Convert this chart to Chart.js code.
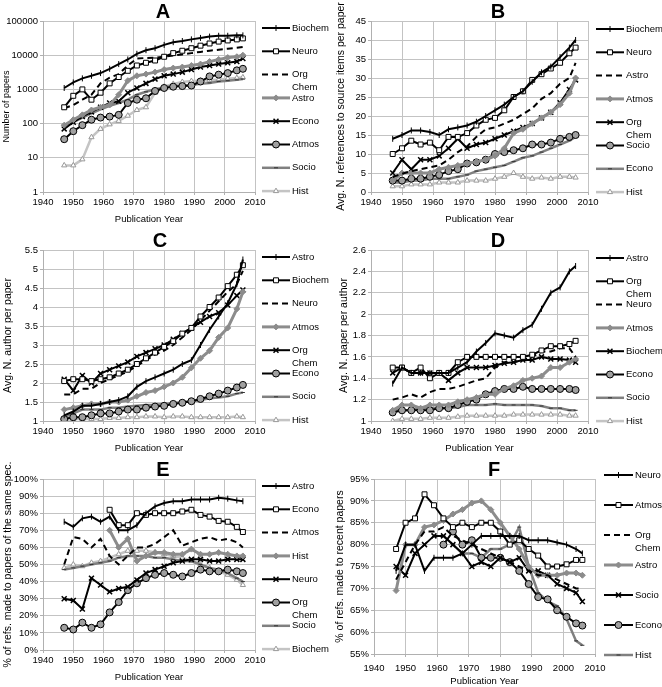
<!DOCTYPE html>
<html lang="en">
<head>
<meta charset="UTF-8">
<title>Publication trends by speciality</title>
<script src="https://cdn.jsdelivr.net/npm/chart.js"></script>
<style>
  body { margin: 0; background: #fff; }
  canvas { position: absolute; }
</style>
</head>
<body>
<canvas id="chartA" width="331" height="229" style="left:0;top:0"></canvas>
<canvas id="chartB" width="331" height="229" style="left:331px;top:0"></canvas>
<canvas id="chartC" width="331" height="229" style="left:0;top:229px"></canvas>
<canvas id="chartD" width="331" height="229" style="left:331px;top:229px"></canvas>
<canvas id="chartE" width="331" height="229" style="left:0;top:458px"></canvas>
<canvas id="chartF" width="331" height="229" style="left:331px;top:458px"></canvas>

<script>
// years sampled every 3 years (plus the last one)
const years = [1947, 1950, 1953, 1956, 1959, 1962, 1965, 1968, 1971, 1974, 1977, 1980, 1983, 1986, 1989, 1992, 1995, 1998, 2001, 2004, 2006];

// A - number of papers (log scale)
const aBiochem = [1100, 1600, 2100, 2500, 3000, 4000, 5500, 7500, 11000, 14000, 16000, 20000, 24000, 26000, 29000, 32000, 35000, 37000, 37000, 38000, 38000];
const aNeuro   = [300, 650, 1000, 500, 800, 1500, 2300, 3500, 5000, 6000, 7000, 9000, 11500, 13500, 16000, 19000, 22000, 25000, 27000, 29000, 31000];
const aOrgChem = [280, 350, 500, 700, 1500, 2200, 2800, 5000, 8000, 8300, 8500, 9000, 9800, 10500, 11500, 12500, 13500, 14500, 15500, 16500, 17500];
const aAstro   = [90, 130, 180, 250, 300, 350, 700, 1800, 2500, 2800, 3200, 3800, 4200, 4500, 5000, 5500, 6500, 7500, 8500, 9000, 10000];
const aEcono   = [70, 110, 160, 220, 300, 400, 450, 800, 1100, 1500, 2000, 2500, 2800, 3200, 3800, 4500, 5000, 5500, 6000, 6500, 8000];
const aAtmos   = [35, 60, 90, 130, 150, 160, 180, 400, 500, 550, 900, 1100, 1200, 1250, 1300, 1700, 2400, 2700, 3000, 3600, 4000];
const aSocio   = [80, 110, 150, 200, 260, 330, 400, 500, 700, 850, 1000, 1150, 1250, 1300, 1350, 1450, 1550, 1700, 1800, 1900, 2000];
const aHist    = [6, 6, 9, 40, 70, 95, 120, 170, 250, 300, 800, 1200, 1450, 1650, 1750, 1800, 1850, 1950, 2050, 2150, 2250];

// B - avg. references to source items per paper
const bBiochem = [14, 15, 16.2, 16.2, 15.8, 15, 16.5, 17, 17.5, 18.5, 20, 21.5, 23, 25, 26.5, 29, 31.5, 33, 35.5, 38, 40];
const bNeuro   = [10, 11.5, 13.5, 12.5, 13, 11, 14.5, 14.5, 15.5, 17.5, 19, 19.5, 21.5, 25, 26.5, 29.5, 31, 32.5, 34, 36.5, 38];
const bAstro   = [4, 4.8, 5.5, 6, 6.5, 7, 8.5, 10.5, 12, 14.5, 16.5, 17, 18, 19, 20.5, 22, 24.5, 26, 28.5, 30, 34];
const bAtmos   = [3, 5, 5, 5, 5, 6, 6.5, 7, 7.5, 8, 8.5, 9.5, 11.5, 15.5, 16.5, 18, 19.5, 21, 23, 26, 30];
const bOrgChem = [5, 8.5, 6, 8.5, 8.5, 9.5, 11.5, 14, 11.5, 12.5, 13, 14, 15, 16, 17, 18, 19.5, 21, 23.5, 27, 29.5];
const bSocio   = [3, 3, 3.5, 3.5, 4, 4.5, 5.5, 6, 7.5, 7.8, 8.5, 10, 10.5, 11, 11.5, 12.5, 12.5, 13, 14, 14.5, 15];
const bEcono   = [2.5, 2.5, 3, 3, 3.5, 3.5, 3.5, 4, 4.5, 5.5, 6, 6.5, 7, 8, 9, 9.5, 10.5, 11.5, 12.5, 13.5, 14.5];
const bHist    = [1.5, 1.5, 2, 2, 2, 2.5, 2.5, 2.5, 3, 3, 3, 3.5, 4, 5, 4, 3.5, 3.8, 3.5, 4, 4, 3.8];

// C - avg. authors per paper
const cAstro   = [1.15, 1.25, 1.4, 1.4, 1.45, 1.5, 1.55, 1.65, 1.9, 2.05, 2.15, 2.25, 2.35, 2.5, 2.6, 3.0, 3.4, 3.75, 4.1, 4.6, 5.25];
const cBiochem = [2.05, 2.1, 2.1, 2.05, 2.1, 2.15, 2.25, 2.35, 2.5, 2.65, 2.8, 2.95, 3.1, 3.3, 3.45, 3.75, 4.0, 4.25, 4.55, 4.85, 5.1];
const cNeuro   = [1.7, 1.7, 1.85, 1.85, 2.0, 2.1, 2.2, 2.3, 2.45, 2.6, 2.75, 2.85, 3.0, 3.2, 3.4, 3.65, 3.9, 4.15, 4.4, 4.6, 4.95];
const cAtmos   = [1.3, 1.35, 1.4, 1.45, 1.45, 1.5, 1.5, 1.55, 1.65, 1.75, 1.8, 1.9, 2.0, 2.15, 2.4, 2.65, 2.85, 3.2, 3.45, 3.95, 4.4];
const cOrgChem = [2.1, 1.8, 2.2, 2.0, 2.25, 2.35, 2.45, 2.55, 2.7, 2.8, 2.9, 3.0, 3.15, 3.3, 3.45, 3.6, 3.75, 3.85, 4.05, 4.3, 4.45];
const cEcono   = [1.05, 1.1, 1.1, 1.15, 1.2, 1.2, 1.25, 1.3, 1.3, 1.35, 1.38, 1.4, 1.45, 1.48, 1.52, 1.58, 1.65, 1.72, 1.8, 1.88, 1.95];
const cSocio   = [1.1, 1.2, 1.3, 1.3, 1.3, 1.35, 1.35, 1.38, 1.4, 1.42, 1.43, 1.45, 1.47, 1.5, 1.52, 1.55, 1.6, 1.62, 1.65, 1.72, 1.75];
const cHist    = [1.02, 1.05, 1.05, 1.05, 1.05, 1.08, 1.08, 1.1, 1.1, 1.12, 1.12, 1.1, 1.12, 1.12, 1.1, 1.1, 1.1, 1.1, 1.1, 1.12, 1.1];

// D - avg. papers per author
const dAstro   = [1.35, 1.5, 1.45, 1.45, 1.45, 1.45, 1.45, 1.5, 1.55, 1.65, 1.73, 1.82, 1.8, 1.78, 1.85, 1.9, 2.05, 2.2, 2.25, 2.4, 2.45];
const dOrgChem = [1.5, 1.5, 1.45, 1.5, 1.4, 1.45, 1.45, 1.55, 1.6, 1.6, 1.6, 1.6, 1.6, 1.6, 1.6, 1.62, 1.66, 1.7, 1.7, 1.72, 1.75];
const dNeuro   = [1.2, 1.22, 1.25, 1.22, 1.27, 1.3, 1.3, 1.32, 1.35, 1.38, 1.4, 1.5, 1.55, 1.55, 1.57, 1.6, 1.65, 1.65, 1.68, 1.68, 1.6];
const dAtmos   = [1.1, 1.15, 1.15, 1.12, 1.15, 1.15, 1.15, 1.18, 1.2, 1.22, 1.25, 1.25, 1.3, 1.33, 1.38, 1.4, 1.42, 1.5, 1.5, 1.55, 1.58];
const dBiochem = [1.45, 1.5, 1.45, 1.45, 1.45, 1.45, 1.38, 1.45, 1.5, 1.5, 1.5, 1.52, 1.54, 1.55, 1.57, 1.57, 1.6, 1.58, 1.58, 1.57, 1.55];
const dEcono   = [1.08, 1.1, 1.1, 1.1, 1.1, 1.12, 1.12, 1.15, 1.18, 1.2, 1.25, 1.28, 1.3, 1.3, 1.32, 1.3, 1.3, 1.3, 1.3, 1.3, 1.29];
const dSocio   = [1.1, 1.1, 1.1, 1.12, 1.12, 1.12, 1.12, 1.13, 1.15, 1.15, 1.15, 1.16, 1.15, 1.15, 1.15, 1.15, 1.14, 1.12, 1.12, 1.1, 1.1];
const dHist    = [1.0, 1.02, 1.02, 1.02, 1.03, 1.03, 1.03, 1.04, 1.05, 1.05, 1.05, 1.05, 1.05, 1.06, 1.06, 1.06, 1.06, 1.06, 1.06, 1.05, 1.05];

// E - % of refs made to papers of the same speciality
const eAstro   = [75, 72, 77, 78, 75, 78, 70, 70, 73, 80, 84, 86, 87, 87, 88, 88, 88, 89, 88.5, 87.5, 87];
const eEcono   = [null, null, null, null, null, 82, 73, 73, 80, 79, 80, 80, 80, 81, 82, 79, 78, 75.5, 75, 72, 69];
const eAtmos   = [50, 66, 65, 60, 65, 55, 50, 55, 60, 60, 62, 66, 70, 61, 63, 65, 66, 64, 65, 63, 60];
const eHist    = [null, null, null, null, null, 70, 60, 65, 52, 55, 57, 57, 56, 56, 59, 56, 56, 57, 56, 55, 55];
const eNeuro   = [30, 29, 24, 42, 38, 34, 36, 37, 41, 45, 47, 49, 51, 52, 53, 53, 52, 52, 53, 53, 53];
const eOrgChem = [13, 12, 16, 13, 15, 22, 28, 35, 39, 42, 44, 45, 44, 43, 45, 47, 46, 46, 47, 46, 45];
const eSocio   = [47, 48, 49, 50, 51, 52, 54, 55, 55, 55, 54, 54, 53, 52, 52, 50, 48, 47, 45, 42, 40];
const eBiochem = [48, 50, 49, 51, 52, 54, 56, 58, 58, 58, 57, 56, 55, 54, 52, 50, 48, 46, 44, 41, 38];

// F - % of refs made to recent papers
const fNeuro   = [74, 80, 80, 74, 77, 77, 77, 78, 80, 82, 82, 82, 82, 82, 81, 81, 81, 80.5, 80, 79, 78];
const fAtmos   = [79, 85, 86, 91.5, 89, 86, 84, 85, 84, 85, 85, 83, 80, 81, 79, 77.5, 75, 75, 75.5, 76.5, 76.5];
const fOrgChem = [72, 76, 80, 83, 83, 84, 82, 81, 80, 79, 78, 77, 76, 75, 74, 73, 73, 72, 71, 70, 70];
const fAstro   = [69.5, 80, 80, 84, 84.5, 85.5, 87, 88, 89.5, 90, 88, 85, 82, 79, 75, 73, 73, 73, 73.5, 73.5, 73];
const fSocio   = [75, 73, 78, 80, 82, 82, 80, 78, 75, 76, 75, 77, 76, 77, 74, 74, 73, 71, 70, 69, 67];
const fEcono   = [null, null, null, null, null, 80, 83, 80, 81, 77, 77, 77, 76, 74, 71, 68, 67.5, 65, 63.5, 62, 61.5];
const fHist    = [null, null, null, null, null, 82, 80, 78, 78, 77, 79, 79, 80, 84, 75, 69, 67, 66, 63, 58, 57];

const FONT = "'Liberation Sans', Arial, sans-serif";

// line/marker look by legend position (same order in every panel)
const styles = [
  { borderColor: '#000', borderWidth: 2, pointStyle: 'line', pointRotation: 90, pointRadius: 3, pointBorderColor: '#000', pointBackgroundColor: '#000', pointBorderWidth: 1 },
  { borderColor: '#000', borderWidth: 2, pointStyle: 'rect', pointRotation: 0, pointRadius: 3.5, pointBackgroundColor: '#fff', pointBorderColor: '#000', pointBorderWidth: 1 },
  { borderColor: '#000', borderWidth: 2, borderDash: [6, 4], pointRadius: 0 },
  { borderColor: '#8c8c8c', borderWidth: 3, pointStyle: 'rectRot', pointRotation: 0, pointRadius: 3, pointBackgroundColor: '#8c8c8c', pointBorderColor: '#8c8c8c', pointBorderWidth: 1 },
  { borderColor: '#000', borderWidth: 2, pointStyle: 'crossRot', pointRotation: 0, pointRadius: 3.5, pointBorderColor: '#000', pointBackgroundColor: '#000', pointBorderWidth: 1.5 },
  { borderColor: '#000', borderWidth: 2, pointStyle: 'circle', pointRotation: 0, pointRadius: 3.5, pointBackgroundColor: '#a0a0a0', pointBorderColor: '#000', pointBorderWidth: 1 },
  { borderColor: '#808080', borderWidth: 2.5, pointStyle: 'line', pointRotation: 0, pointRadius: 2, pointBorderColor: '#333', pointBackgroundColor: '#333', pointBorderWidth: 1 },
  { borderColor: '#c4c4c4', borderWidth: 2.5, pointStyle: 'triangle', pointRotation: 0, pointRadius: 3, pointBackgroundColor: '#fff', pointBorderColor: '#999', pointBorderWidth: 1 }
];

// draws the panel letter and the legend on the right
const sideLegend = {
  id: 'sideLegend',
  afterDraw(chart, args, opts) {
    const ctx = chart.ctx;
    ctx.save();
    ctx.fillStyle = '#000';
    ctx.font = 'bold 20px ' + FONT;
    ctx.textAlign = 'center';
    ctx.textBaseline = 'middle';
    ctx.fillText(opts.letter, opts.letterX, 12);

    chart.data.datasets.forEach((ds, i) => {
      const y = opts.y0 + i * opts.dy;
      ctx.beginPath();
      ctx.setLineDash(ds.borderDash || []);
      ctx.lineWidth = ds.borderWidth;
      ctx.strokeStyle = ds.borderColor;
      ctx.moveTo(opts.x1, y);
      ctx.lineTo(opts.x2, y);
      ctx.stroke();
      ctx.setLineDash([]);
      if (ds.pointRadius > 0 && Chart.helpers && Chart.helpers.drawPoint) {
        ctx.fillStyle = ds.pointBackgroundColor;
        ctx.strokeStyle = ds.pointBorderColor;
        ctx.lineWidth = ds.pointBorderWidth;
        Chart.helpers.drawPoint(ctx, {
          pointStyle: ds.pointStyle, rotation: ds.pointRotation || 0,
          radius: ds.pointRadius, borderWidth: ds.pointBorderWidth
        }, (opts.x1 + opts.x2) / 2, y);
      }
      ctx.fillStyle = '#000';
      ctx.font = '9.5px ' + FONT;
      ctx.textAlign = 'left';
      ds.label.split(' ').forEach((w, k) => ctx.fillText(w, opts.x2 + 2, y + k * 13));
    });
    ctx.restore();
  }
};

function makeChart(id, p) {
  const datasets = p.series.map(([label, values], i) => Object.assign({
    label: label,
    data: values.map((v, k) => ({ x: years[k], y: v })),
    tension: 0,
    spanGaps: false,
    fill: false
  }, styles[i]));

  const yScale = {
    type: p.log ? 'logarithmic' : 'linear',
    min: p.yMin, max: p.yMax,
    afterFit: s => { s.width = p.g.left; },
    ticks: {
      stepSize: p.yStep, color: '#000', padding: 2,
      font: { size: 9.5, family: FONT },
      callback: p.yFmt
    },
    grid: { color: '#c3c3c3', tickLength: 3, tickColor: '#b0b0b0' },
    border: { color: '#b0b0b0' },
    title: {
      display: true, text: p.yTitle, color: '#000',
      font: { size: p.g.ytSize, family: FONT },
      padding: { top: p.g.ytPad, bottom: 0 }
    }
  };
  if (p.log) {
    yScale.afterBuildTicks = s => { s.ticks = p.yTicks.map(v => ({ value: v })); };
  }

  return new Chart(document.getElementById(id), {
    type: 'line',
    data: { datasets: datasets },
    options: {
      responsive: false,
      animation: false,
      events: [],
      layout: { padding: { top: p.g.top, right: p.g.right, left: 0, bottom: 0 } },
      scales: {
        x: {
          type: 'linear', min: 1940, max: 2010,
          afterFit: s => { s.height = p.g.xh; },
          ticks: {
            stepSize: 10, color: '#000', padding: p.g.xpad, maxRotation: 0, autoSkip: false,
            font: { size: 9.5, family: FONT },
            callback: v => String(v)
          },
          grid: { color: '#c3c3c3', tickLength: 3, tickColor: '#b0b0b0' },
          border: { color: '#b0b0b0' },
          title: {
            display: true, text: 'Publication Year', color: '#000',
            font: { size: 9.5, family: FONT },
            padding: { top: 0, bottom: p.g.xtb }
          }
        },
        y: yScale
      },
      plugins: {
        legend: { display: false },
        tooltip: { enabled: false },
        sideLegend: p.legend
      }
    },
    plugins: [sideLegend]
  });
}

const pct = v => v + '%';
const plain = v => String(v);

makeChart('chartA', {
  log: true, yMin: 1, yMax: 100000, yTicks: [1, 10, 100, 1000, 10000, 100000], yFmt: plain,
  yTitle: 'Number of papers',
  g: { top: 21, right: 76, left: 43, xh: 37, xpad: 2, xtb: 4, ytSize: 9, ytPad: 1.5 },
  legend: { letter: 'A', letterX: 163, x1: 262, x2: 290, y0: 28, dy: 23.3 },
  series: [['Biochem', aBiochem], ['Neuro', aNeuro], ['Org Chem', aOrgChem], ['Astro', aAstro],
           ['Econo', aEcono], ['Atmos', aAtmos], ['Socio', aSocio], ['Hist', aHist]]
});

makeChart('chartB', {
  yMin: 0, yMax: 45, yStep: 5, yFmt: plain,
  yTitle: 'Avg. N. references to source items per paper',
  g: { top: 21, right: 74, left: 40, xh: 37, xpad: 2, xtb: 4, ytSize: 10.5, ytPad: 4 },
  legend: { letter: 'B', letterX: 167, x1: 265, x2: 293, y0: 29, dy: 23.3 },
  series: [['Biochem', bBiochem], ['Neuro', bNeuro], ['Astro', bAstro], ['Atmos', bAtmos],
           ['Org Chem', bOrgChem], ['Socio', bSocio], ['Econo', bEcono], ['Hist', bHist]]
});

makeChart('chartC', {
  yMin: 1, yMax: 5.5, yStep: 0.5, yFmt: plain,
  yTitle: 'Avg. N. author per paper',
  g: { top: 21, right: 76, left: 43, xh: 37, xpad: 2, xtb: 4, ytSize: 10.5, ytPad: 1.5 },
  legend: { letter: 'C', letterX: 160, x1: 262, x2: 290, y0: 28, dy: 23.3 },
  series: [['Astro', cAstro], ['Biochem', cBiochem], ['Neuro', cNeuro], ['Atmos', cAtmos],
           ['Org Chem', cOrgChem], ['Econo', cEcono], ['Socio', cSocio], ['Hist', cHist]]
});

makeChart('chartD', {
  yMin: 1, yMax: 2.6, yStep: 0.2, yFmt: v => String(Math.round(v * 10) / 10),
  yTitle: 'Avg. N. paper per author',
  g: { top: 21, right: 74, left: 40, xh: 37, xpad: 2, xtb: 4, ytSize: 10.5, ytPad: 7 },
  legend: { letter: 'D', letterX: 167, x1: 265, x2: 293, y0: 29, dy: 23.3 },
  series: [['Astro', dAstro], ['Org Chem', dOrgChem], ['Neuro', dNeuro], ['Atmos', dAtmos],
           ['Biochem', dBiochem], ['Econo', dEcono], ['Socio', dSocio], ['Hist', dHist]]
});

makeChart('chartE', {
  yMin: 0, yMax: 100, yStep: 10, yFmt: pct,
  yTitle: '% of refs. made to papers of the same spec.',
  g: { top: 21, right: 76, left: 43, xh: 37, xpad: 2, xtb: 4, ytSize: 10.5, ytPad: 1.5 },
  legend: { letter: 'E', letterX: 163, x1: 262, x2: 290, y0: 28, dy: 23.3 },
  series: [['Astro', eAstro], ['Econo', eEcono], ['Atmos', eAtmos], ['Hist', eHist],
           ['Neuro', eNeuro], ['Org Chem', eOrgChem], ['Socio', eSocio], ['Biochem', eBiochem]]
});

makeChart('chartF', {
  yMin: 55, yMax: 95, yStep: 5, yFmt: pct,
  yTitle: '% of refs. made to recent papers',
  g: { top: 21, right: 67, left: 43, xh: 33, xpad: 6, xtb: 0, ytSize: 10.5, ytPad: 2.5 },
  legend: { letter: 'F', letterX: 163, x1: 273, x2: 302, y0: 17, dy: 30 },
  series: [['Neuro', fNeuro], ['Atmos', fAtmos], ['Org Chem', fOrgChem], ['Astro', fAstro],
           ['Socio', fSocio], ['Econo', fEcono], ['Hist', fHist]]
});
</script>
</body>
</html>
